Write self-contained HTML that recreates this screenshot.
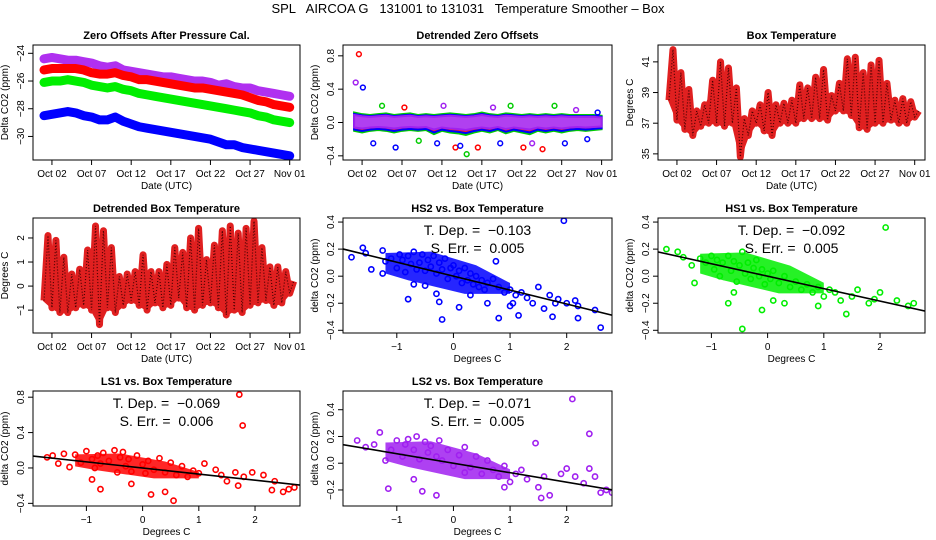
<!DOCTYPE html>
<html><head><meta charset="utf-8"><style>
body{margin:0;background:#fff;}
svg{display:block;font-family:"Liberation Sans",sans-serif;}
</style></head><body>
<svg id="c" width="936" height="540" viewBox="0 0 936 540">
<text x="468" y="13" font-size="13" text-anchor="middle" style="white-space:pre">SPL   AIRCOA G   131001 to 131031   Temperature Smoother – Box</text>
</svg>
<script>
// ---------- data ----------
const dayTicks=[1,6,11,16,21,26,31];
const dayLabels=["Oct 02","Oct 07","Oct 12","Oct 17","Oct 22","Oct 27","Nov 01"];
const days=[0,1,2,3,4,5,6,7,8,9,10,11,12,13,14,15,16,17,18,19,20,21,22,23,24,25,26,27,28,29,30,31];
const zoPurple=[-24.4,-24.3,-24.4,-24.5,-24.5,-24.6,-24.7,-24.9,-25.0,-24.9,-25.2,-25.3,-25.4,-25.5,-25.6,-25.7,-25.7,-25.8,-25.9,-26.0,-26.0,-26.1,-26.3,-26.2,-26.4,-26.5,-26.5,-26.7,-26.8,-26.9,-27.0,-27.1];
const zoRed=[-25.2,-25.1,-25.1,-25.1,-25.1,-25.2,-25.4,-25.5,-25.5,-25.4,-25.6,-25.7,-25.9,-25.9,-26.0,-26.1,-26.2,-26.3,-26.4,-26.5,-26.5,-26.6,-26.7,-26.8,-26.9,-27.0,-27.2,-27.4,-27.5,-27.7,-27.8,-27.9];
const zoGreen=[-26.1,-26.0,-26.0,-25.9,-26.0,-26.1,-26.3,-26.4,-26.5,-26.4,-26.6,-26.7,-26.9,-27.0,-27.1,-27.2,-27.3,-27.4,-27.5,-27.6,-27.7,-27.8,-27.9,-28.0,-28.1,-28.2,-28.3,-28.5,-28.6,-28.8,-28.9,-29.0];
const zoBlue=[-28.5,-28.4,-28.3,-28.2,-28.3,-28.5,-28.6,-28.8,-28.8,-28.6,-28.9,-29.1,-29.3,-29.4,-29.5,-29.6,-29.7,-29.8,-29.9,-30.0,-30.1,-30.2,-30.4,-30.6,-30.6,-30.8,-30.9,-31.0,-31.1,-31.2,-31.3,-31.4];
const dtHi=[0.12,0.10,0.09,0.10,0.11,0.09,0.10,0.11,0.09,0.10,0.09,0.10,0.11,0.10,0.09,0.10,0.12,0.10,0.09,0.11,0.10,0.09,0.10,0.09,0.10,0.09,0.10,0.09,0.09,0.09,0.09,0.08];
const dtLo=[-0.10,-0.12,-0.10,-0.09,-0.10,-0.12,-0.10,-0.09,-0.10,-0.09,-0.14,-0.10,-0.12,-0.13,-0.15,-0.12,-0.10,-0.12,-0.09,-0.13,-0.10,-0.12,-0.14,-0.10,-0.12,-0.10,-0.12,-0.10,-0.09,-0.10,-0.09,-0.08];
const outDay=[0.2,0.6,1.1,2.4,3.5,5.2,6.3,8.1,10.4,11.2,12.7,13.3,14.1,15.5,17.4,18.3,19.6,21.2,22.3,23.6,25.1,26.4,27.8,29.2,30.5];
const outVal=[0.48,0.82,0.42,-0.25,0.2,-0.3,0.18,-0.22,-0.25,0.2,-0.3,-0.28,-0.38,-0.3,0.18,-0.25,0.2,-0.3,-0.25,-0.32,0.2,-0.25,0.15,-0.2,0.12];
const outCol=['#a020f0','#ff0000','#0000ff','#0000ff','#00cc00','#0000ff','#ff0000','#00cc00','#0000ff','#a020f0','#ff0000','#0000ff','#00cc00','#ff0000','#a020f0','#0000ff','#00cc00','#ff0000','#a020f0','#ff0000','#00cc00','#0000ff','#a020f0','#0000ff','#0000ff'];
const btLo=[38.5,37.2,36.6,36.2,36.8,37.0,37.0,36.8,37.0,34.8,36.2,37.0,36.5,36.2,37.0,37.0,37.0,37.3,37.3,37.3,37.2,37.8,37.8,37.5,36.7,36.6,37.0,37.0,37.2,37.0,37.0,37.4];
const btHi=[41.8,40.3,39.2,37.8,38.2,39.8,41.0,40.6,39.3,37.3,37.8,38.2,39.0,38.2,38.3,38.5,39.5,39.3,40.0,40.5,38.8,39.6,41.2,41.3,40.3,40.8,41.1,39.6,38.5,38.6,38.4,37.8];
const dbLo=[-0.6,-0.9,-1.1,-1.1,-0.9,-0.8,-1.0,-1.6,-0.9,-1.1,-0.8,-0.6,-0.8,-1.0,-0.7,-0.9,-0.8,-0.5,-0.9,-1.0,-0.8,-0.7,-0.9,-1.2,-1.0,-1.1,-0.8,-0.7,-0.6,-0.8,-0.7,-0.3];
const dbHi=[2.1,1.9,1.2,0.5,0.7,1.5,2.5,2.3,1.6,0.4,0.5,0.6,1.3,0.6,0.6,0.9,1.6,1.4,2.0,2.4,1.1,1.7,2.3,2.5,2.2,2.4,2.7,1.6,0.8,0.8,0.6,0.2];
// scatter: box temperature anomaly (x) vs detrended CO2 (y)
const hs2X=[-1.8,-1.6,-1.55,-1.45,-1.25,-1.25,-1.2,-1.1,-1.0,-0.95,-0.9,-0.85,-0.8,-0.75,-0.7,-0.65,-0.6,-0.55,-0.5,-0.45,-0.4,-0.35,-0.3,-0.25,-0.2,-0.15,-0.1,-0.05,0.0,0.05,0.1,0.15,0.2,0.25,0.3,0.35,0.4,0.45,0.5,0.55,0.6,0.7,0.75,0.8,0.9,1.0,1.05,1.1,1.2,1.3,1.4,1.5,1.6,1.7,1.8,1.85,2.0,2.15,2.2,2.5,2.6,1.95,-0.8,-0.2,-0.25,0.8,1.15,1.75,2.2,0.1,-0.7,-0.5,-0.3,0.3,0.6,1.0];
const hs2Y=[0.14,0.21,0.17,0.05,0.19,0.02,0.11,0.13,0.06,0.16,0.12,0.03,0.15,0.09,0.18,0.05,0.10,0.16,0.04,0.12,0.07,0.15,0.02,0.10,0.05,0.13,-0.02,0.06,0.08,0.0,0.04,-0.05,0.06,-0.03,0.02,-0.06,0.0,-0.08,-0.03,-0.1,-0.05,-0.02,0.11,-0.08,-0.12,-0.1,-0.2,-0.14,-0.12,-0.16,-0.2,-0.08,-0.24,-0.14,-0.2,-0.17,-0.2,-0.18,-0.22,-0.25,-0.38,0.41,-0.17,-0.32,-0.19,-0.31,-0.29,-0.3,-0.31,-0.23,-0.06,-0.07,-0.13,-0.14,-0.2,-0.22];
const hs1X=[-1.8,-1.6,-1.5,-1.35,-1.2,-1.1,-1.0,-0.95,-0.9,-0.85,-0.8,-0.7,-0.65,-0.6,-0.55,-0.5,-0.45,-0.4,-0.35,-0.3,-0.25,-0.2,-0.15,-0.1,-0.05,0.0,0.05,0.1,0.2,0.3,0.4,0.5,0.6,0.7,0.8,0.9,1.0,1.1,1.2,1.3,1.5,1.6,1.8,1.9,2.0,2.1,2.3,2.5,2.6,-0.1,-0.7,-1.3,-0.6,0.3,0.9,1.4,-0.45,0.1];
const hs1Y=[0.2,0.18,0.14,0.08,0.13,0.1,0.15,0.05,0.12,0.0,0.1,0.15,0.04,0.11,-0.04,0.08,0.18,0.02,0.1,-0.02,0.06,0.12,0.0,0.05,-0.06,0.02,-0.02,0.04,-0.05,0.0,-0.08,-0.04,-0.1,-0.06,-0.12,-0.08,-0.15,-0.1,-0.12,-0.18,-0.15,-0.1,-0.2,-0.17,-0.12,0.36,-0.18,-0.22,-0.2,-0.25,-0.2,-0.05,-0.12,-0.2,-0.22,-0.28,-0.39,-0.18];
const ls1X=[-1.7,-1.6,-1.5,-1.4,-1.3,-1.2,-1.1,-1.0,-0.9,-0.85,-0.8,-0.75,-0.7,-0.6,-0.5,-0.45,-0.4,-0.35,-0.3,-0.25,-0.2,-0.1,0.0,0.05,0.1,0.2,0.3,0.4,0.5,0.6,0.7,0.8,0.9,1.0,1.1,1.3,1.4,1.5,1.65,1.7,1.8,1.95,2.15,2.3,2.35,2.5,2.6,2.7,1.72,1.78,-0.75,0.15,0.4,0.55,-0.9,-0.2];
const ls1Y=[0.12,0.14,0.05,0.16,0.01,0.15,0.06,0.19,0.1,0.0,0.14,0.05,0.17,0.08,0.2,-0.05,0.12,0.18,0.02,0.1,-0.04,0.14,0.04,-0.06,0.08,-0.02,0.11,-0.05,0.06,-0.08,0.02,-0.1,-0.03,-0.06,0.05,-0.02,-0.08,-0.15,-0.05,-0.2,-0.1,-0.05,-0.08,-0.25,-0.15,-0.27,-0.24,-0.22,0.83,0.48,-0.24,-0.3,-0.27,-0.37,-0.13,-0.18];
const ls2X=[-1.7,-1.55,-1.4,-1.3,-1.2,-1.1,-1.0,-0.9,-0.85,-0.8,-0.7,-0.65,-0.6,-0.5,-0.45,-0.4,-0.3,-0.25,-0.2,-0.1,0.0,0.1,0.2,0.3,0.4,0.5,0.6,0.7,0.8,0.9,1.0,1.1,1.2,1.3,1.45,1.5,1.6,1.7,1.9,2.0,2.1,2.15,2.3,2.4,2.4,2.5,2.6,2.7,2.8,-1.15,-0.55,-0.3,-0.7,0.2,0.9,1.55];
const ls2Y=[0.17,0.12,0.14,0.23,0.02,0.1,0.17,0.05,0.14,0.18,0.1,0.2,0.03,0.16,0.08,0.13,0.05,0.17,0.02,0.1,-0.02,0.06,0.12,-0.03,0.05,-0.08,0.02,-0.05,-0.1,-0.02,-0.14,-0.08,-0.05,-0.12,0.15,-0.18,-0.1,-0.24,-0.08,-0.04,0.48,-0.1,-0.15,0.22,-0.04,-0.1,-0.22,-0.2,-0.22,-0.19,-0.21,-0.24,-0.12,-0.07,-0.18,-0.26];
const slopes=[-0.103,-0.092,-0.069,-0.071];
const intercepts=[0.0,0.0,0.0,0.0];
const errs=["0.005","0.005","0.006","0.005"];

// ---------- drawing ----------
const NS="http://www.w3.org/2000/svg";
const svg=document.getElementById('c');
function el(tag,attrs,parent){const e=document.createElementNS(NS,tag);for(const k in attrs)e.setAttribute(k,attrs[k]);(parent||svg).appendChild(e);return e;}
function txt(x,y,s,size,extra,parent){const t=el('text',Object.assign({x:x,y:y,'font-size':size,'text-anchor':'middle'},extra||{}),parent);t.textContent=s;return t;}
function lin(d0,d1,r0,r1){return v=>r0+(v-d0)/(d1-d0)*(r1-r0);}

function panel(p){
  const g=el('g',{});
  
  
  const sx=lin(p.xd[0],p.xd[1],p.L,p.R), sy=lin(p.yd[0],p.yd[1],p.B,p.T);
  const clip='clip-'+p.name;
  const cp=el('clipPath',{id:clip},g);el('rect',{x:p.L,y:p.T,width:p.R-p.L,height:p.B-p.T},cp);
  const plot=el('g',{'clip-path':'url(#'+clip+')'},g);
  
  
  p.draw(plot,sx,sy);
  const box=el('rect',{x:p.L,y:p.T,width:p.R-p.L,height:p.B-p.T,fill:'none',stroke:'#000','stroke-width':1},g);
  
  
  const tt=txt((p.L+p.R)/2,p.T-6,p.title,11,{'font-weight':'bold'},g);
  
  
  const xa=el('g',{},g);
  
  
  p.xt.forEach((v,i)=>{const x=sx(v);el('line',{x1:x,x2:x,y1:p.B,y2:p.B+5,stroke:'#000'},xa);
    const l=txt(x,p.B+17,p.xl[i],10,{},xa);});
  const xt=txt((p.L+p.R)/2,p.B+29,p.xlab,10,{},g);
  
  
  const ya=el('g',{},g);
  
  
  p.yt.forEach((v,i)=>{const y=sy(v);el('line',{x1:p.L-5,x2:p.L,y1:y,y2:y,stroke:'#000'},ya);
    const l=txt(p.L-9,y,p.yl[i],10,{transform:'rotate(-90 '+(p.L-9)+' '+y+')'},ya);});
  const yx=p.L-25,ym=(p.T+p.B)/2;
  const yt=txt(yx,ym,p.ylab,10,{transform:'rotate(-90 '+yx+' '+ym+')'},g);
  
  
}
function band(g,sx,sy,lo,hi,fill,stroke,name){
  let pts=days.map(d=>sx(d)+','+sy(hi[d])).concat(days.slice().reverse().map(d=>sx(d)+','+sy(lo[d])));
  const pg=el('polygon',{points:pts.join(' '),fill:fill,stroke:stroke,'stroke-width':2},g);
  
  
}
function zigzag(g,sx,sy,lo,hi,color,name){
  // core band (lower ~60% of daily range)
  const core=days.map(k=>lo[k]+(hi[k]-lo[k])*0.55);
  band(g,sx,sy,lo,core,color,color,name+'-core');
  let d='';days.forEach(k=>{d+=(k?'L':'M')+sx(k)+','+sy(lo[k])+'L'+sx(k+0.5)+','+sy(hi[k]);});
  const p=el('path',{d:d,fill:'none',stroke:color,'stroke-width':7,'stroke-linejoin':'round'},g);
  
  
  const p2=el('path',{d:d,fill:'none',stroke:'#400','stroke-width':1.2,'stroke-dasharray':'1 2'},g);
  
  
}
function series(g,sx,sy,vals,color,name){
  const pts=days.map(d=>sx(d)+','+sy(vals[d])).join(' ');
  const pl=el('polyline',{points:pts,fill:'none',stroke:color,'stroke-width':9,'stroke-linejoin':'round','stroke-linecap':'round'},g);
  
  
}
function scatter(g,sx,sy,X,Y,color,k,name){
  const cl=el('polygon',{points:[[-1.2,0.17],[-0.4,0.18],[0.4,0.08],[1.0,-0.05],[1.0,-0.13],[0.2,-0.13],[-0.8,-0.03],[-1.2,0.02]].map(q=>sx(q[0])+','+sy(q[1]*(0.7+Math.abs(slopes[k])*3))).join(' '),fill:color,opacity:0.85},g);
  
  
  X.forEach((x,i)=>{const c=el('circle',{cx:sx(x),cy:sy(Y[i]),r:2.6,fill:'none',stroke:color,'stroke-width':1.6},g);
    
    });
  const x0=-2.2,x1=3.0;
  const fl=el('line',{x1:sx(x0),y1:sy(intercepts[k]+slopes[k]*x0),x2:sx(x1),y2:sy(intercepts[k]+slopes[k]*x1),stroke:'#000','stroke-width':1.6},g);
  
  
}
const cols=[33,343,658], widths=[267,269,267], rowsT=[45,218,391];
function box(c,r){return {L:cols[c],R:cols[c]+widths[c],T:rowsT[r],B:rowsT[r]+115};}
const dayDom=[-1.39,32.3];

panel(Object.assign(box(0,0),{name:'zero-offsets-panel',title:'Zero Offsets After Pressure Cal.',xd:dayDom,yd:[-31.7,-23.4],
  xt:dayTicks,xl:dayLabels,xlab:'Date (UTC)',yt:[-24,-26,-28,-30],yl:['−24','−26','−28','−30'],ylab:'Delta CO2 (ppm)',
  draw:(g,sx,sy)=>{series(g,sx,sy,zoPurple,'#b030f0','series-ls2');series(g,sx,sy,zoRed,'#ff0000','series-ls1');series(g,sx,sy,zoGreen,'#00ee00','series-hs1');series(g,sx,sy,zoBlue,'#0000ff','series-hs2');}}));

panel(Object.assign(box(1,0),{name:'detrended-offsets-panel',title:'Detrended Zero Offsets',xd:dayDom,yd:[-0.45,0.93],
  xt:dayTicks,xl:dayLabels,xlab:'Date (UTC)',yt:[0.8,0.4,0,-0.4],yl:['0.8','0.4','0.0','−0.4'],ylab:'Delta CO2 (ppm)',
  draw:(g,sx,sy)=>{band(g,sx,sy,dtLo,dtHi,'#00cc00','#00cc00','band-hs1');
    band(g,sx,sy,dtLo.map(v=>v*0.85),dtHi.map(v=>v*0.85),'#ff2020','#0000ff','band-hs2');
    band(g,sx,sy,dtLo.map(v=>v*0.6),dtHi.map(v=>v*0.75),'#b040f0','#a020f0','band-ls2');
    outDay.forEach((d,i)=>{const c=el('circle',{cx:sx(d),cy:sy(outVal[i]),r:2.4,fill:'none',stroke:outCol[i],'stroke-width':1.5},g);
      
      });}}));

panel(Object.assign(box(2,0),{name:'box-temperature-panel',title:'Box Temperature',xd:dayDom,yd:[34.6,42.1],
  xt:dayTicks,xl:dayLabels,xlab:'Date (UTC)',yt:[35,37,39,41],yl:['35','37','39','41'],ylab:'Degrees C',
  draw:(g,sx,sy)=>zigzag(g,sx,sy,btLo,btHi,'#e02020','box-temp-series')}));

panel(Object.assign(box(0,1),{name:'detrended-box-temp-panel',title:'Detrended Box Temperature',xd:dayDom,yd:[-1.95,2.83],
  xt:dayTicks,xl:dayLabels,xlab:'Date (UTC)',yt:[-1,0,1,2],yl:['−1','0','1','2'],ylab:'Degrees C',
  draw:(g,sx,sy)=>zigzag(g,sx,sy,dbLo,dbHi,'#e02020','detrended-temp-series')}));

const scat=[{c:1,r:1,name:'hs2-scatter-panel',title:'HS2 vs. Box Temperature',X:hs2X,Y:hs2Y,color:'#0000ff',yd:[-0.42,0.43],yt:[0.4,0.2,0,-0.2,-0.4],yl:['0.4','0.2','0.0','−0.2','−0.4']},
 {c:2,r:1,name:'hs1-scatter-panel',title:'HS1 vs. Box Temperature',X:hs1X,Y:hs1Y,color:'#00ee00',yd:[-0.42,0.43],yt:[0.4,0.2,0,-0.2,-0.4],yl:['0.4','0.2','0.0','−0.2','−0.4']},
 {c:0,r:2,name:'ls1-scatter-panel',title:'LS1 vs. Box Temperature',X:ls1X,Y:ls1Y,color:'#ff0000',yd:[-0.43,0.87],yt:[0.8,0.4,0,-0.4],yl:['0.8','0.4','0.0','−0.4']},
 {c:1,r:2,name:'ls2-scatter-panel',title:'LS2 vs. Box Temperature',X:ls2X,Y:ls2Y,color:'#a020f0',yd:[-0.32,0.54],yt:[0.4,0.2,0,-0.2],yl:['0.4','0.2','0.0','−0.2']}];
scat.forEach((s,k)=>{
  const b=box(s.c,s.r);
  panel(Object.assign(b,{name:s.name,title:s.title,xd:[-1.95,2.8],yd:s.yd,xt:[-1,0,1,2],xl:['−1','0','1','2'],xlab:'Degrees C',
    yt:s.yt,yl:s.yl,ylab:'delta CO2 (ppm)',draw:(g,sx,sy)=>scatter(g,sx,sy,s.X,s.Y,s.color,k,'series')}));
  const cx=b.L+(b.R-b.L)*0.5;
  const a=txt(cx,b.T+17,'T. Dep. =  −'+Math.abs(slopes[k]).toFixed(3),14,{style:'white-space:pre'});
  
  
  const e=txt(cx,b.T+35,'S. Err. =  '+errs[k],14,{style:'white-space:pre'});
  
  
});
</script>
</body></html>
